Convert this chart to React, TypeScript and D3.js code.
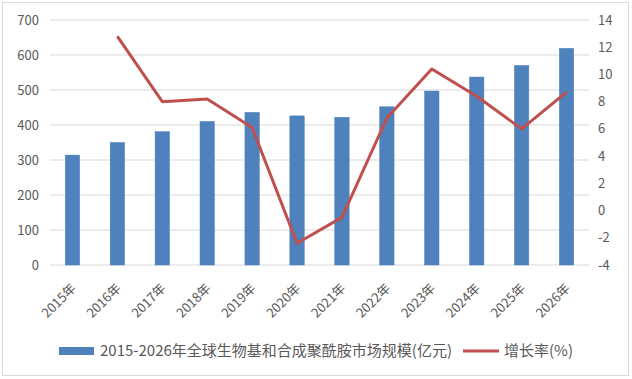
import React from "react";
import * as d3 from "d3";

const categories = ["2015年","2016年","2017年","2018年","2019年","2020年","2021年","2022年","2023年","2024年","2025年","2026年"];
const marketSize = [314, 350, 381, 410, 436, 426, 422, 452, 497, 537, 570, 619];
const growthRate: (number | null)[] = [null, 12.8, 8.0, 8.2, 6.1, -2.4, -0.5, 6.8, 10.4, 8.4, 6.0, 8.7];
const leftTicks = [0, 100, 200, 300, 400, 500, 600, 700];
const rightTicks = [-4, -2, 0, 2, 4, 6, 8, 10, 12, 14];
const barLegend = "2015-2026年全球生物基和合成聚酰胺市场规模(亿元)";
const lineLegend = "增长率(%)";

const W = 632, H = 379;
const FONT = "'Noto Sans CJK SC', 'Noto Sans', sans-serif";

export default function App() {
  const x = d3.scaleBand<string>().domain(categories).range([50, 589]).paddingInner(0.68).paddingOuter(0.34);
  const yL = d3.scaleLinear().domain([0, 700]).range([265, 20]);
  const yR = d3.scaleLinear().domain([-4, 14]).range([265, 20]);
  const cx = (c: string) => (x(c) as number) + x.bandwidth() / 2;
  const lineGen = d3.line<[string, number | null]>()
    .defined(d => d[1] !== null)
    .x(d => cx(d[0]))
    .y(d => yR(d[1] as number));
  const lineData = categories.map((c, i) => [c, growthRate[i]] as [string, number | null]);

  return (
    <svg width={W} height={H} style={{ position: "absolute", left: 0, top: 0, fontFamily: FONT }}>
      <rect x={0} y={0} width={W} height={H} fill="#fff" />
      <rect x={2.5} y={2.5} width={626} height={373} fill="none" stroke="#D9D9D9" strokeWidth={1} />
      {leftTicks.map(t => (
        <line key={t} x1={50} x2={589} y1={yL(t)} y2={yL(t)} stroke="#D9D9D9" strokeWidth={1} />
      ))}
      {leftTicks.map(t => (
        <text key={"l" + t} x={39} y={yL(t)} dy="0.35em" textAnchor="end" fontSize={13} fill="#595959">{t}</text>
      ))}
      {rightTicks.map(t => (
        <text key={"r" + t} x={598} y={yR(t)} dy="0.35em" textAnchor="start" fontSize={13} fill="#595959">{t}</text>
      ))}
      {categories.map((c, i) => (
        <rect key={c} x={x(c)} y={yL(marketSize[i])} width={x.bandwidth()} height={yL(0) - yL(marketSize[i])}
          fill="#4F81BD" stroke="#4A7EBB" strokeWidth={0.5} />
      ))}
      <path d={lineGen(lineData) || ""} fill="none" stroke="#C0504D" strokeWidth={3} strokeLinejoin="round" />
      {categories.map(c => (
        <text key={"x" + c} transform={`translate(${cx(c) + 4.5},${289}) rotate(-45)`} textAnchor="end" fontSize={13} fill="#595959">{c}</text>
      ))}
      <rect x={59} y={347} width={35} height={8} fill="#4F81BD" />
      <text x={100} y={351} dy="0.35em" fontSize={15} fill="#595959">{barLegend}</text>
      <line x1={463} x2={499} y1={351} y2={351} stroke="#C0504D" strokeWidth={3} />
      <text x={504} y={351} dy="0.35em" fontSize={15} fill="#595959">{lineLegend}</text>
    </svg>
  );
}
